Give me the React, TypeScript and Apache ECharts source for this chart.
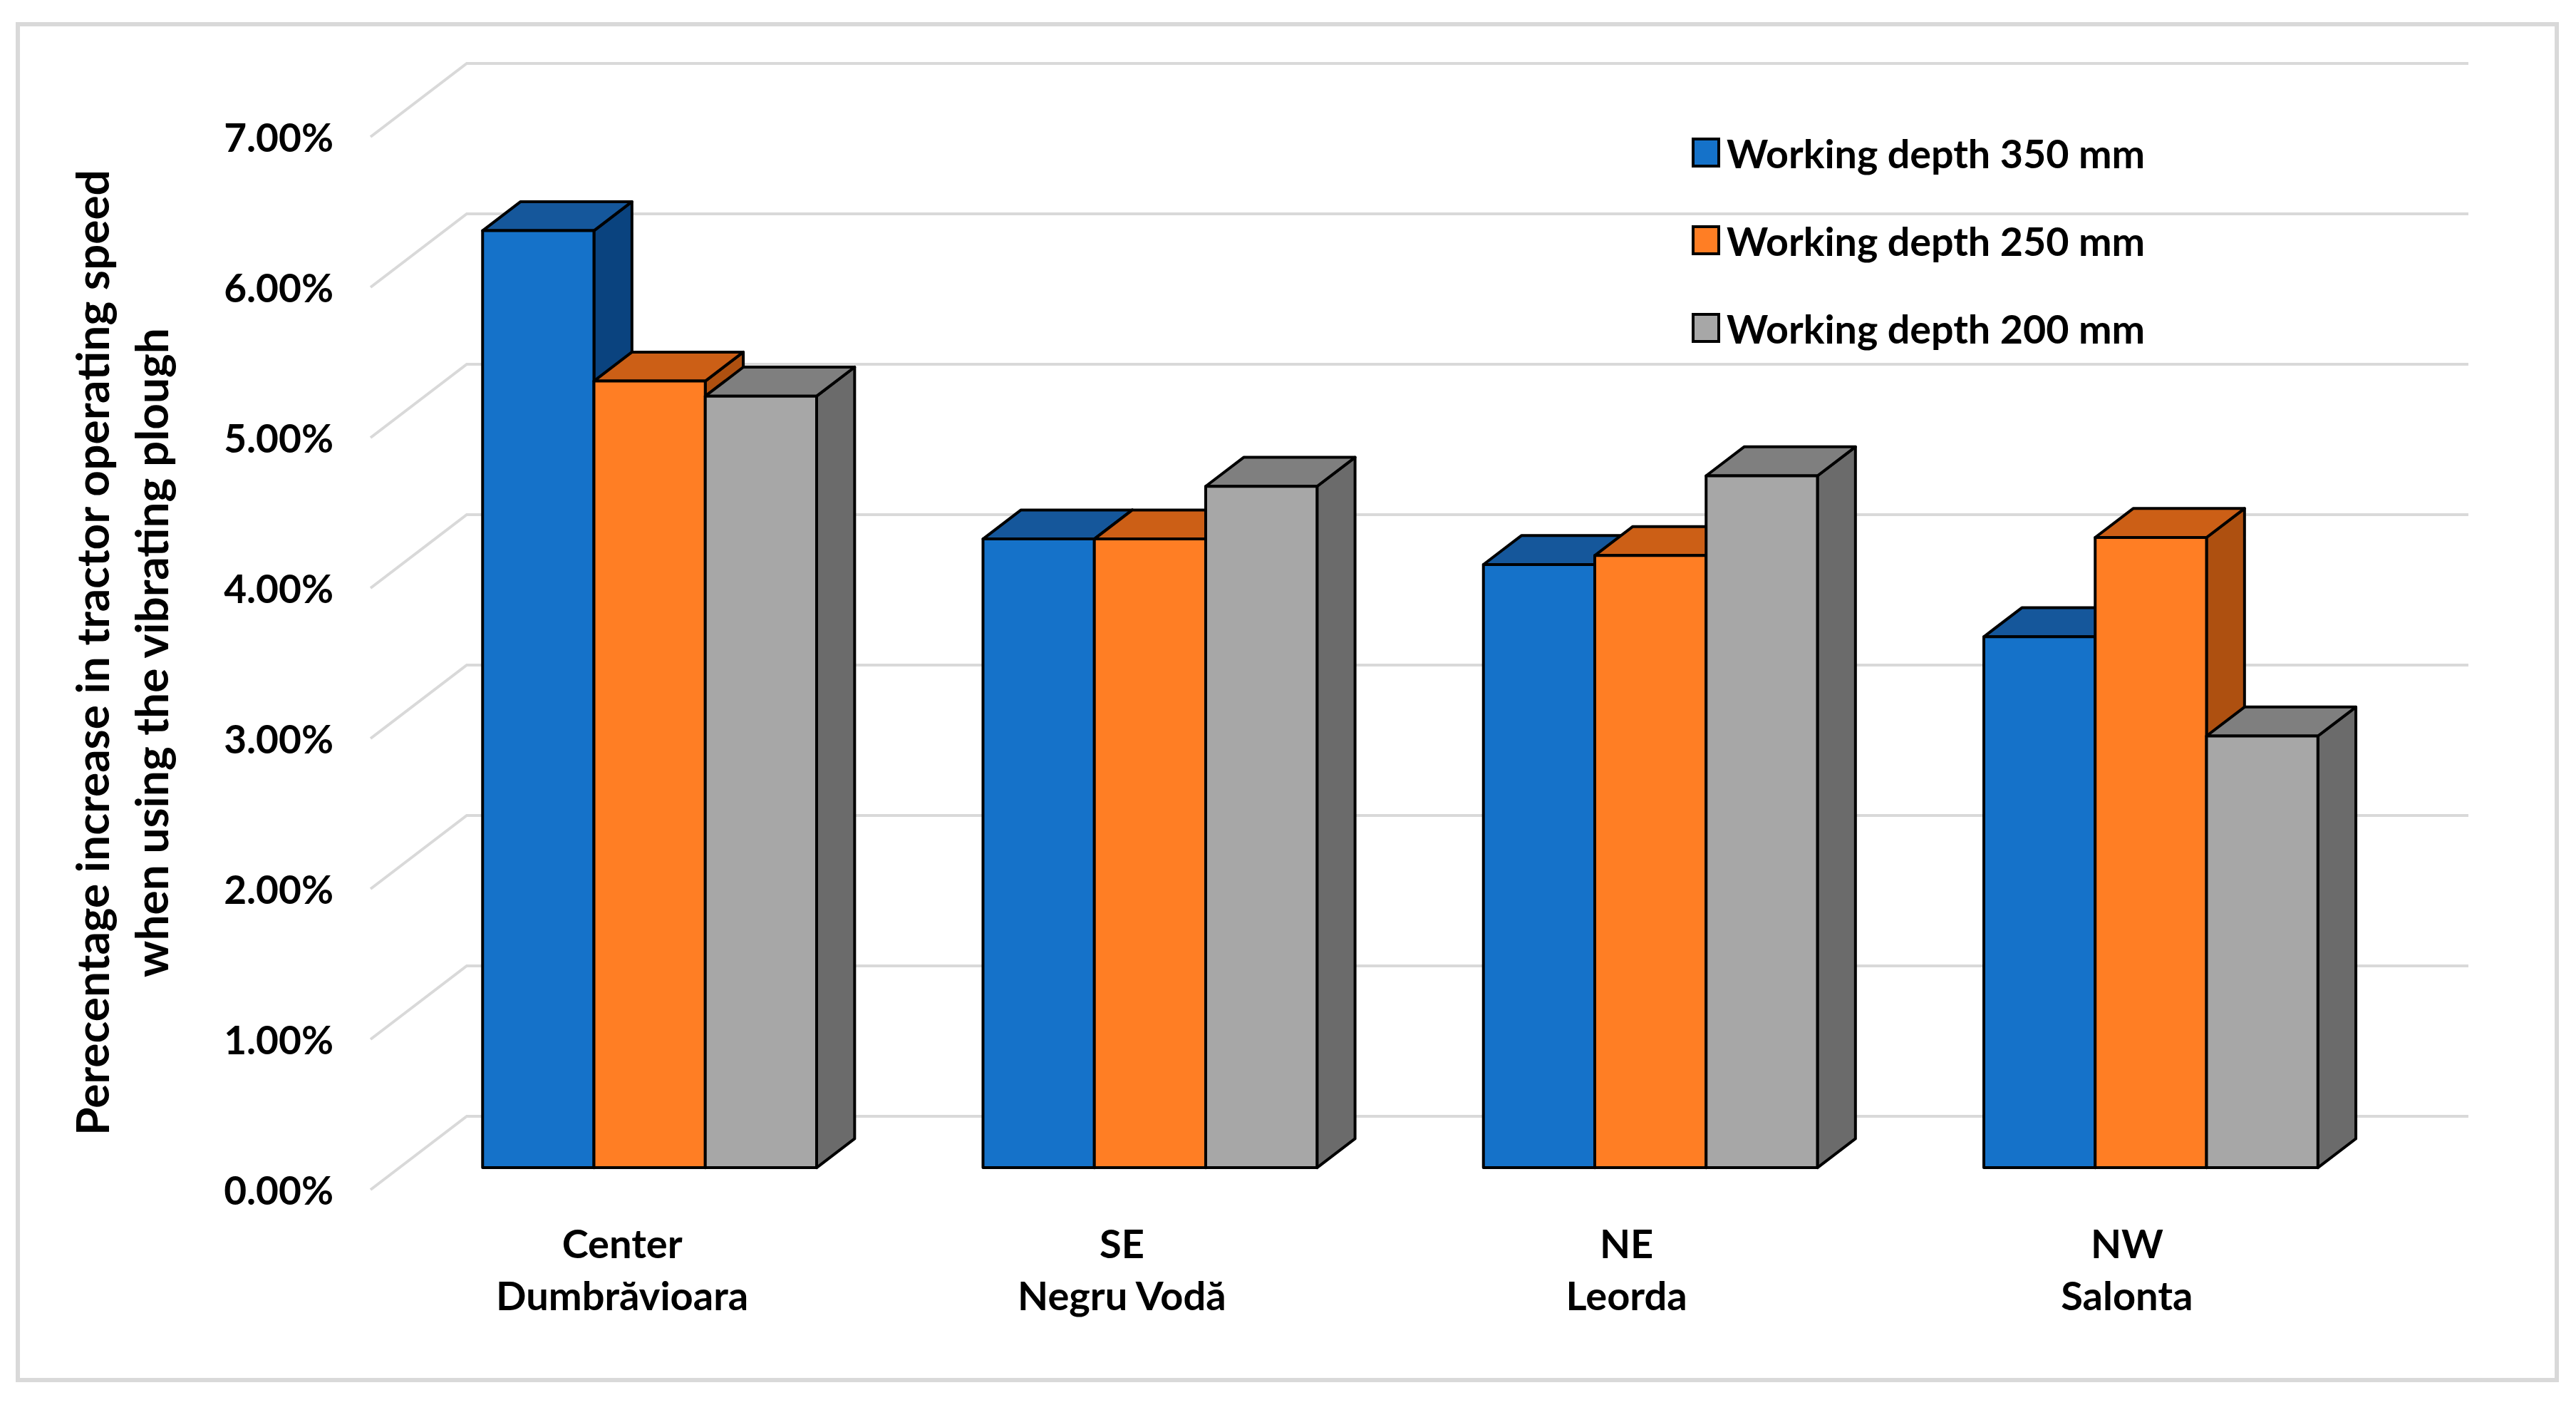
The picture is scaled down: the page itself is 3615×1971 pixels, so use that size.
import React, { useEffect, useRef } from "react";
import * as echarts from "echarts";

const categories = ["Center\nDumbrăvioara", "SE\nNegru Vodă", "NE\nLeorda", "NW\nSalonta"];
const yTicks = [0, 1, 2, 3, 4, 5, 6, 7];
const depth350 = [6.23, 4.18, 4.01, 3.53];
const depth250 = [5.23, 4.18, 4.07, 4.19];
const depth200 = [5.13, 4.53, 4.6, 2.87];
const seriesNames = ["Working depth 350 mm", "Working depth 250 mm", "Working depth 200 mm"];
const axisTitle = "Perecentage increase in tractor operating speed\nwhen using the vibrating plough";

const FONT = "Lato";
const palette = [
  { front: "#1572C9", top: "#15579B", side: "#0A437F" },
  { front: "#FF7E24", top: "#CC5F16", side: "#AE5010" },
  { front: "#A7A7A7", top: "#7F7F7F", side: "#6B6B6B" },
];
const WALL_DX = 135;
const WALL_DY = -103;
const BAR_SHIFT = 0.3;
const BAR_DEPTH = 0.395;
const BAR_WIDTH = 0.2225;
const LABEL_PAD_LEFT = [4, 2, 14, 14];

function barSeries(name: string, values: number[], k: number) {
  const c = palette[k];
  return {
    type: "custom",
    name,
    z: 3 + k,
    itemStyle: { color: c.front },
    encode: { x: 0, y: 1 },
    data: values.map((v, i) => [i, v]),
    renderItem: (_p: any, api: any) => {
      const top = api.coord([api.value(0), api.value(1)]);
      const base = api.coord([api.value(0), 0]);
      const w = api.size([1, 0])[0] * BAR_WIDTH;
      const ox = WALL_DX * BAR_SHIFT;
      const oy = WALL_DY * BAR_SHIFT;
      const dx = WALL_DX * BAR_DEPTH;
      const dy = WALL_DY * BAR_DEPTH;
      const x0 = top[0] + ox + (k - 1.5) * w;
      const x1 = x0 + w;
      const yT = top[1] + oy;
      const yB = base[1] + oy;
      const stroke = { stroke: "#000", lineWidth: 4, lineJoin: "round" };
      return {
        type: "group",
        children: [
          {
            type: "polygon",
            shape: { points: [[x1, yT], [x1 + dx, yT + dy], [x1 + dx, yB + dy], [x1, yB]] },
            style: { fill: c.side, ...stroke },
          },
          {
            type: "polygon",
            shape: { points: [[x0, yT], [x0 + dx, yT + dy], [x1 + dx, yT + dy], [x1, yT]] },
            style: { fill: c.top, ...stroke },
          },
          {
            type: "rect",
            shape: { x: x0, y: yT, width: w, height: yB - yT },
            style: { fill: c.front, ...stroke },
          },
        ],
      };
    },
  };
}

export default function App() {
  const ref = useRef<HTMLDivElement>(null);
  useEffect(() => {
    const chart = echarts.init(ref.current!, undefined, { renderer: "svg" });
    const option: any = {
      animation: false,
      backgroundColor: "#ffffff",
      textStyle: { fontFamily: FONT },
      grid: { left: 520, top: 192, width: 2809, height: 1477, containLabel: false },
      graphic: [
        {
          type: "rect",
          z: 0,
          shape: { x: 25, y: 34, width: 3563, height: 1902 },
          style: { fill: "#ffffff", stroke: "#D9D9D9", lineWidth: 6 },
        },
      ],
      legend: {
        orient: "vertical",
        left: 2369,
        top: 181,
        itemWidth: 36,
        itemHeight: 38,
        itemGap: 67,
        textStyle: { fontFamily: FONT, fontWeight: "bold", fontSize: 55.6, color: "#000", padding: [0, 0, 0, 6] },
        data: seriesNames.map((name, k) => ({
          name,
          icon: "rect",
          itemStyle: { color: palette[k].front, borderColor: "#000", borderWidth: 4 },
        })),
      },
      xAxis: {
        type: "category",
        data: categories.map((value, i) => ({
          value,
          textStyle: { padding: [0, 0, 0, LABEL_PAD_LEFT[i]] },
        })),
        axisLine: { show: false },
        axisTick: { show: false },
        splitLine: { show: false },
        axisLabel: {
          fontFamily: FONT,
          fontWeight: "bold",
          fontSize: 56,
          color: "#000",
          lineHeight: 73,
          margin: 38,
          interval: 0,
        },
      },
      yAxis: {
        type: "value",
        min: 0,
        max: 7,
        interval: 1,
        axisLine: { show: false },
        axisTick: { show: false },
        splitLine: { show: false },
        axisLabel: {
          fontFamily: FONT,
          fontWeight: "bold",
          fontSize: 55,
          color: "#000",
          margin: 52,
          formatter: (v: number) => v.toFixed(2) + "%",
        },
        name: axisTitle,
        nameLocation: "middle",
        nameRotate: 90,
        nameGap: 267,
        nameTextStyle: {
          fontFamily: FONT,
          fontWeight: "bold",
          fontSize: 64,
          color: "#000",
          lineHeight: 83,
          padding: [0, 0, 0, 30],
        },
      },
      series: [
        {
          type: "custom",
          name: "walls",
          z: 1,
          silent: true,
          encode: { y: 0 },
          data: yTicks.map((v) => [v]),
          renderItem: (p: any, api: any) => {
            const y = api.coord([0, api.value(0)])[1];
            const x0 = p.coordSys.x;
            const x1 = x0 + p.coordSys.width;
            return {
              type: "polyline",
              shape: { points: [[x0, y], [x0 + WALL_DX, y + WALL_DY], [x1 + WALL_DX, y + WALL_DY]] },
              style: { fill: "none", stroke: "#D9D9D9", lineWidth: 4 },
            };
          },
        },
        barSeries(seriesNames[0], depth350, 0),
        barSeries(seriesNames[1], depth250, 1),
        barSeries(seriesNames[2], depth200, 2),
      ],
    };
    chart.setOption(option);
    return () => chart.dispose();
  }, []);
  return <div ref={ref} style={{ position: "absolute", left: 0, top: 0, width: 3615, height: 1971 }} />;
}
